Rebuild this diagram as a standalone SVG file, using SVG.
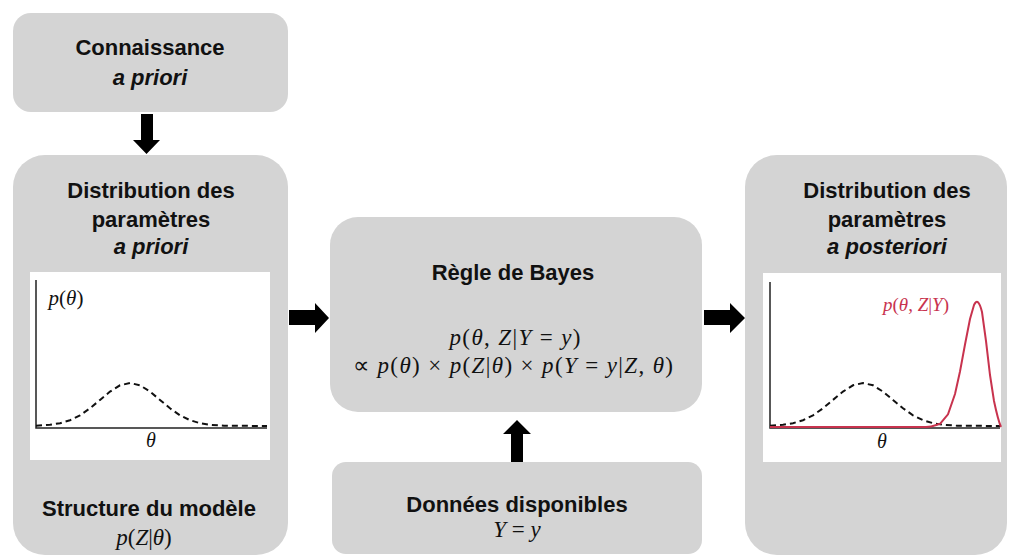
<svg xmlns="http://www.w3.org/2000/svg" width="1009" height="556" viewBox="0 0 1009 556">
<style>
.box{fill:#d4d4d4}
.panel{fill:#ffffff}
.lbl{font-family:"Liberation Sans",Arial,sans-serif;font-weight:bold;font-size:22px;fill:#111;text-anchor:middle}
.it{font-style:italic}
.math{font-family:"Liberation Serif","Times New Roman",serif;font-size:23px;fill:#111;text-anchor:middle}
.mi{font-style:italic}
.axis{stroke:#222;stroke-width:1.5;fill:none}
.dash{stroke:#111;stroke-width:2;stroke-dasharray:6 4;fill:none}
.red{stroke:#c8334e;stroke-width:2;fill:none}
.arrow{fill:#000}
</style>
<rect width="1009" height="556" fill="#fff"/>

<g id="node-connaissance">
<rect class="box" x="13" y="13" width="275" height="99" rx="18"/>
<text class="lbl" x="150" y="55">Connaissance</text>
<text class="lbl it" x="150" y="85">a priori</text>
</g>

<g id="node-prior">
<rect class="box" x="13" y="155" width="275" height="400" rx="32"/>
<text class="lbl" x="151" y="198">Distribution des</text>
<text class="lbl" x="151" y="227">paramètres</text>
<text class="lbl it" x="151" y="254">a priori</text>
<rect class="panel" x="30" y="272" width="240" height="188"/>
<path class="axis" d="M36,280 V428 H267"/>
<path class="dash" d="M36,425.7 L50,424.8 L60,423.2 L70,420.2 L80,415.3 L90,408.3 L100,399.9 L110,391.6 L120,385.3 L130,383 L140,385.3 L150,391.6 L160,399.9 L170,408.3 L180,415.3 L190,420.2 L200,423.2 L210,424.8 L224,425.7 L267,426"/>
<text class="math" x="66" y="305" style="font-size:21px"><tspan class="mi">p</tspan>(<tspan class="mi">θ</tspan>)</text>
<text class="math mi" x="151" y="447" style="font-size:20px">θ</text>
<text class="lbl" x="149" y="516">Structure du modèle</text>
<text class="math" x="144" y="545"><tspan class="mi">p</tspan>(<tspan class="mi">Z</tspan>|<tspan class="mi">θ</tspan>)</text>
</g>

<g id="node-bayes">
<rect class="box" x="330" y="217" width="372" height="195" rx="28"/>
<text class="lbl" x="513" y="280">Règle de Bayes</text>
<text class="math" x="515" y="345" textLength="131"><tspan class="mi">p</tspan>(<tspan class="mi">θ</tspan>, <tspan class="mi">Z</tspan>|<tspan class="mi">Y</tspan> = <tspan class="mi">y</tspan>)</text>
<text class="math" x="513" y="373" textLength="320"><tspan>∝ </tspan><tspan class="mi">p</tspan>(<tspan class="mi">θ</tspan>) × <tspan class="mi">p</tspan>(<tspan class="mi">Z</tspan>|<tspan class="mi">θ</tspan>) × <tspan class="mi">p</tspan>(<tspan class="mi">Y</tspan> = <tspan class="mi">y</tspan>|<tspan class="mi">Z</tspan>, <tspan class="mi">θ</tspan>)</text>
</g>

<g id="node-donnees">
<rect class="box" x="332" y="462" width="370" height="92" rx="14"/>
<text class="lbl" x="517" y="512">Données disponibles</text>
<text class="math" x="517" y="537"><tspan class="mi">Y</tspan>  =  <tspan class="mi">y</tspan></text>
</g>

<g id="node-posterior">
<rect class="box" x="745" y="155" width="262" height="400" rx="32"/>
<text class="lbl" x="887" y="198">Distribution des</text>
<text class="lbl" x="887" y="227">paramètres</text>
<text class="lbl it" x="887" y="254">a posteriori</text>
<rect class="panel" x="763" y="273" width="238" height="189"/>
<path class="axis" d="M770,282 V428 H1000"/>
<path class="dash" d="M770,425.7 L783,424.8 L793,423.2 L803,420.2 L813,415.3 L823,408.3 L833,399.9 L843,391.6 L853,385.3 L863,383 L873,385.3 L883,391.6 L893,399.9 L903,408.3 L913,415.3 L923,420.2 L933,423.2 L943,424.8 L957,425.7 L1000,426"/>
<path class="red" d="M770,427 L926,427 C932,427 936,425 940,423.8 L948,414.3 L955,394 L960,371.5 L965,344.5 L970,319 L974,305 Q978,296 982,312 L986,341 L990,375 L994,401 Q998,420 1001,427"/>
<text class="math" x="916" y="311" style="font-size:19px;fill:#c8334e"><tspan class="mi">p</tspan>(<tspan class="mi">θ</tspan>, <tspan class="mi">Z</tspan>|<tspan class="mi">Y</tspan>)</text>
<text class="math mi" x="882" y="448" style="font-size:20px">θ</text>
</g>

<g id="connectors">
<polygon class="arrow" points="141,114 153,114 153,140 160,140 146.5,154 133,140 141,140"/>
<polygon class="arrow" points="289,310 315,310 315,303 329,318 315,333 315,325 289,325"/>
<polygon class="arrow" points="704,310 730,310 730,303 745,318 730,333 730,325 704,325"/>
<polygon class="arrow" points="517,420 531,434 523,434 523,462 511,462 511,434 503,434"/>
</g>
</svg>
